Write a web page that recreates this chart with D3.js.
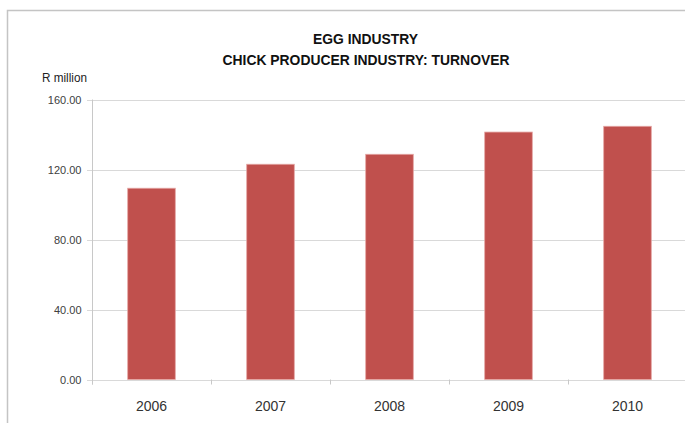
<!DOCTYPE html>
<html>
<head>
<meta charset="utf-8">
<script src="https://cdn.jsdelivr.net/npm/d3@7"></script>
<style>
  body { margin: 0; background: #fff; }
  svg { display: block; font-family: "Liberation Sans", "DejaVu Sans", sans-serif; }
</style>
</head>
<body>
<div id="chart"></div>
<script>
// data
const years = ["2006", "2007", "2008", "2009", "2010"];
const turnover = [109.3, 123.0, 128.7, 141.4, 144.7];
const yTicks = [0, 40, 80, 120, 160];

const width = 685, height = 426;
const margin = { top: 99.5, right: -2, bottom: 46.5, left: 92 };

let svg = d3.select("#chart").append("svg")
    .attr("width", width)
    .attr("height", height);

// chart frame (only left and top are visible)
svg.append("path")
    .attr("d", `M7.5,${height - 3}V10.5H${width}`)
    .attr("fill", "none")
    .attr("stroke", "#c4c4c4")
    .attr("stroke-width", 1.5);

let x = d3.scaleBand()
    .domain(years)
    .range([margin.left, width - margin.right])
    .paddingInner(0.6)
    .paddingOuter(0.3);

let y = d3.scaleLinear()
    .domain([0, 160])
    .range([height - margin.bottom, margin.top]);

// gridlines
svg.append("g")
    .selectAll("line")
    .data(yTicks)
    .enter().append("line")
    .attr("x1", margin.left - 5)
    .attr("x2", width - margin.right)
    .attr("y1", d => Math.round(y(d)) + 0.5)
    .attr("y2", d => Math.round(y(d)) + 0.5)
    .attr("stroke", "#d9d9d9");

// y labels
svg.append("g")
    .selectAll("text")
    .data(yTicks)
    .enter().append("text")
    .attr("x", 81.5)
    .attr("y", d => y(d) + 4)
    .attr("text-anchor", "end")
    .attr("font-size", 11)
    .attr("fill", "#404040")
    .text(d => d.toFixed(2));

// axis lines
svg.append("line")
    .attr("x1", margin.left + 0.5).attr("x2", margin.left + 0.5)
    .attr("y1", margin.top).attr("y2", y(0) + 5)
    .attr("stroke", "#c8c8c8");

// x tick marks between categories
let step = x.step();
svg.append("g")
    .selectAll("line")
    .data(years)
    .enter().append("line")
    .attr("x1", d => Math.round(x(d) + x.bandwidth() / 2 - step / 2) + 0.5)
    .attr("x2", d => Math.round(x(d) + x.bandwidth() / 2 - step / 2) + 0.5)
    .attr("y1", y(0))
    .attr("y2", y(0) + 5)
    .attr("stroke", "#c8c8c8");

// bars
svg.append("g")
    .selectAll("rect")
    .data(turnover)
    .enter().append("rect")
    .attr("x", (d, i) => x(years[i]))
    .attr("y", d => y(d))
    .attr("width", x.bandwidth())
    .attr("height", d => y(0) - y(d))
    .attr("fill", "#c0504d")
    .attr("stroke", "#e4a6a4")
    .attr("stroke-width", 0.8);

// x labels
svg.append("g")
    .selectAll("text")
    .data(years)
    .enter().append("text")
    .attr("x", d => x(d) + x.bandwidth() / 2)
    .attr("y", 411)
    .attr("text-anchor", "middle")
    .attr("font-size", 14)
    .attr("fill", "#333")
    .text(d => d);

// titles
svg.append("text")
    .attr("x", 365.5).attr("y", 43.5)
    .attr("text-anchor", "middle")
    .attr("font-size", 15.5)
    .attr("font-weight", "bold")
    .attr("fill", "#111")
    .attr("textLength", 105)
    .attr("lengthAdjust", "spacingAndGlyphs")
    .text("EGG INDUSTRY");

svg.append("text")
    .attr("x", 366).attr("y", 64.5)
    .attr("text-anchor", "middle")
    .attr("font-size", 15.5)
    .attr("font-weight", "bold")
    .attr("fill", "#111")
    .attr("textLength", 287)
    .attr("lengthAdjust", "spacingAndGlyphs")
    .text("CHICK PRODUCER INDUSTRY: TURNOVER");

svg.append("text")
    .attr("x", 42).attr("y", 82)
    .attr("font-size", 12.5)
    .attr("fill", "#222")
    .attr("textLength", 45)
    .attr("lengthAdjust", "spacingAndGlyphs")
    .text("R million");
</script>
</body>
</html>
